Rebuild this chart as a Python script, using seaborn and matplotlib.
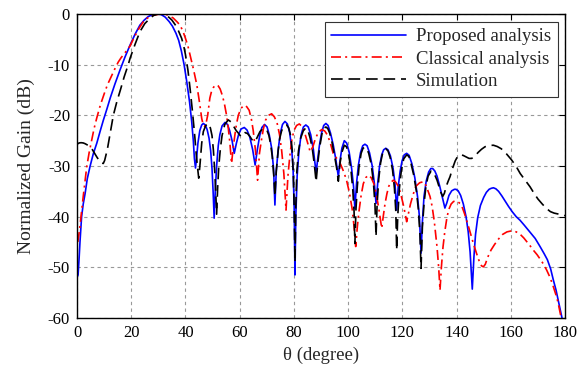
import numpy as np
import pandas as pd
import matplotlib
matplotlib.use("Agg")
import matplotlib.pyplot as plt
import seaborn as sns

# ---- data ----
prop_theta = [0, 0.4, 0.8, 1.1, 1.7, 2.3, 3.0, 3.8, 4.8, 6, 7.3, 8.5, 9.7, 11, 12.3, 14, 15.9, 17.7, 19.6,
              21.4, 23.2, 24.8, 26.3, 28, 29.5, 31, 32.5, 34, 35.2, 36.5, 37.5, 38.5, 39.5, 40.5, 41.5,
              42.3, 42.9, 43.3, 43.7, 44.1, 44.6, 45.3, 46, 46.6, 47.3, 48, 48.7, 49.3, 49.8, 50.2, 50.6,
              51, 51.5, 52.1, 52.7, 53.5, 54.6, 55.5, 56.3, 57.2, 58, 58.8, 59.6, 60.5, 61.7, 62.7, 63.7,
              64.8, 65.7, 66.6, 67.4, 68.2, 69.2, 70.1, 70.9, 71.8, 72.5, 73, 73.5, 74.2, 75, 75.8, 76.7,
              77.6, 78.4, 79.1, 79.7, 80.1, 80.4, 80.7, 81.2, 81.8, 82.6, 83.5, 84.4, 85.3, 86.2, 87.2,
              87.8, 88.2, 88.7, 89.4, 90.2, 91, 91.8, 92.6, 93.5, 94.5, 95.5, 96.4, 97, 97.7, 98.6, 99.5,
              100.4, 101.3, 102, 102.5, 103.1, 103.8, 104.6, 105.4, 106.2, 107, 107.9, 108.9, 109.7,
              110.3, 110.9, 111.6, 112.4, 113.1, 113.9, 114.7, 115.6, 116.6, 117.3, 117.9, 118.5, 119.2,
              119.9, 120.7, 121.6, 122.5, 123.5, 124.6, 125.6, 126.3, 126.9, 127.4, 128, 128.8, 129.7,
              130.5, 131.2, 132, 132.8, 133.8, 134.8, 135.7, 136.4, 137.2, 138.2, 139.2, 139.8, 140.6,
              141.5, 142.5, 143.5, 144.3, 145, 145.8, 146.4, 147, 147.8, 148.8, 150, 151, 152, 152.8,
              153.6, 154.5, 155.5, 156.7, 158, 159.2, 160.5, 162, 163.4, 165, 167, 169, 170.8, 172.3,
              173.5, 174.7, 175.7, 176.7, 177.5, 178.3, 178.8, 179.3]
prop_gain = [-52, -51.5, -48, -45, -40, -37.5, -35.4, -32.5, -30.1, -27.6, -25.5, -23.2, -21, -18.8,
             -16.5, -13.8, -11, -8.5, -6.1, -4, -2.2, -1.2, -0.5, -0.1, 0, -0.1, -0.6, -1.5, -2.4, -3.8,
             -5.2, -7.3, -10, -13.4, -17.3, -21.2, -25, -28.5, -30.4, -28.5, -25.5, -23, -21.9, -21.6,
             -21.9, -22.8, -24.5, -27, -30.5, -35, -40.3, -35, -30, -26, -23.8, -22.1, -21.4, -21.8, -23,
             -25, -27.5, -25.5, -23.8, -22.7, -22.4, -22.9, -24.2, -26.8, -29.8, -26.5, -24, -22.4,
             -21.8, -22.3, -23.8, -26.5, -30.5, -37.7, -31, -26.8, -23.5, -21.8, -21.2, -21.7, -23.3,
             -26, -30.5, -38, -51.5, -40, -32, -27.5, -24, -22.3, -21.9, -22.3, -23.8, -26.8, -29.5,
             -31.4, -29, -26, -23.5, -22, -21.6, -22, -23.5, -25.8, -28.8, -32.1, -29, -26.5, -25,
             -25.5, -27.3, -30.5, -34, -38.4, -33.5, -29.8, -27.3, -26, -25.7, -26, -27.4, -30, -33.5,
             -37.4, -33.5, -30, -27.8, -26.8, -26.5, -26.8, -28, -30.5, -33.5, -38.7, -34, -31, -29,
             -27.8, -27.5, -27.9, -29.5, -32.3, -36, -40, -47.2, -41, -36, -33, -31.2, -30.5, -30.5,
             -31, -32, -34, -36.3, -38.3, -37.3, -35.8, -34.9, -34.6, -34.6, -34.9, -35.8, -37.5, -40,
             -43, -47, -54.3, -48, -43.5, -40.2, -37.8, -36.2, -35.2, -34.6, -34.4, -34.3, -34.5, -35,
             -35.9, -37, -38, -39, -40, -40.7, -41.7, -43, -44.3, -45.9, -47.3, -48.5, -50.3, -52.5,
             -54.5, -56.5, -58.5, -59.7, -61]

class_theta = [0.3, 0.7, 1.1, 1.7, 2.3, 3, 3.6, 4.5, 5.4, 6.3, 7.3, 8.6, 10, 11.2, 12.5, 13.8, 15.2,
               16.3, 17.5, 18.6, 19.6, 21, 22.7, 24.5, 26, 28, 30, 31.8, 33.5, 35.5, 37, 38, 39, 40,
               40.9, 41.7, 43, 44.2, 45.2, 46, 46.6, 47.2, 47.7, 48.2, 49, 49.6, 50.2, 50.8, 51.5, 52.1,
               52.8, 53.5, 54.3, 55.1, 55.8, 56.4, 57, 57.6, 58.2, 58.8, 59.5, 60.5, 61.7, 62.6, 63.5,
               64.3, 65, 65.8, 66.6, 67.3, 68, 68.7, 69.5, 70.6, 71.8, 72.8, 73.8, 74.7, 75.5, 76.3,
               77.1, 77.8, 78.5, 79.2, 80, 81, 82, 83, 84, 85, 86, 87, 88, 89.1, 90.3, 91.4, 92.5, 93.5,
               94.5, 95.8, 96.7, 97.5, 98.5, 99.5, 100.5, 101.5, 102.2, 102.8, 103.4, 104, 104.8, 105.6,
               106.5, 107.5, 108.5, 109.5, 110.4, 111.2, 111.8, 112.4, 113, 113.6, 114.3, 115, 115.8,
               116.7, 117.6, 118.5, 119.4, 120.3, 121, 121.6, 122.3, 123, 124, 125, 126.4, 127.8, 128.7,
               129.5, 130.2, 131, 131.8, 132.8, 133.4, 133.9, 134.4, 135, 135.7, 136.5, 137.2, 138,
               138.9, 139.8, 140.6, 141.5, 142.2, 143, 144.6, 146.2, 147.4, 148.5, 149.2, 149.9, 150.6,
               151.5, 152.7, 154, 155.5, 157, 158.6, 160.3, 162, 163.5, 164.8, 166, 167.2, 168.3, 169.7,
               171, 172.1, 173.2, 174.4, 175.5, 176.3, 177, 177.6, 178.2, 178.8, 179.2]
class_gain = [-45, -43.5, -41.8, -38.8, -36, -32.9, -30.1, -27.3, -24.9, -22.6, -20.5, -18, -15.8, -14,
              -12.5, -11, -9.5, -8.6, -7.8, -7, -6.3, -4.7, -3, -1.5, -0.8, -0.3, -0.05, 0, -0.2, -0.8,
              -1.6, -2.2, -3.3, -4.8, -6.3, -8.1, -11, -14, -17.5, -20.6, -22, -22.2, -21.3, -20, -16.6,
              -15.3, -14.6, -14.15, -14, -14.2, -14.8, -15.9, -17.5, -19.8, -22.5, -25.5, -29.5, -26.5,
              -24, -21.8, -20, -18.6, -18, -18.3, -19, -20.7, -23, -26.8, -32.8, -27.5, -25, -22.8, -21,
              -20, -19.7, -20.3, -21.5, -23.8, -27, -31.5, -38.7, -32, -28, -25, -23, -22, -21.7, -22.2,
              -23.5, -25.3, -27.2, -26.2, -24.5, -23.3, -22.8, -23.1, -24, -25.6, -27.5, -28.5, -29, -30,
              -31.3, -33, -35.3, -38.5, -42, -45.9, -42, -39, -35.8, -33.5, -32.3, -31.8, -32.3, -33.5,
              -35.6, -38, -40.2, -42.3, -39.8, -37.5, -35.5, -34, -33.2, -32.8, -33.2, -34, -35.5, -37.5,
              -39.3, -41, -39.3, -37.5, -35.6, -34, -33.3, -33.1, -33.8, -35, -36, -38, -41, -46, -50,
              -54.5, -50, -46, -42.8, -40, -38.5, -37.5, -37, -36.9, -37.1, -37.5, -38.3, -39.5, -42.3,
              -45.3, -47.3, -49, -49.7, -49.9, -49.4, -48, -46.6, -45.5, -44.4, -43.5, -43, -42.8, -43,
              -43.5, -44.2, -45, -45.8, -46.6, -47.5, -48.5, -49.4, -50.5, -51.9, -53.5, -54.8, -56,
              -57.4, -59, -60.5, -61.5]

sim_theta = [0, 0.8, 1.5, 2.3, 3, 4, 4.8, 5.7, 6.5, 7.4, 8.3, 9, 9.7, 10.2, 10.7, 11.2, 11.6, 12.5, 13.4,
             14.7, 16, 17.4, 18.9, 19.6, 21.4, 23.2, 25, 26.9, 28.2, 29.5, 31.2, 33, 34, 35, 36.2, 37.4,
             38.6, 39.4, 40, 40.9, 41.7, 42.6, 43.5, 44, 44.4, 44.9, 45.4, 46, 46.6, 47.5, 48.4, 49.2,
             49.8, 50.3, 50.8, 51.2, 51.5, 51.9, 52.3, 52.9, 53.5, 54.5, 55.8, 56.8, 57.8, 58.7, 59.5,
             60.5, 61.2, 62, 62.9, 63.8, 64.8, 65.7, 66.6, 67.5, 68.4, 69.3, 70.1, 70.8, 71.5, 72, 72.6,
             73, 73.5, 74.2, 74.8, 75.5, 76.4, 77.3, 78.1, 78.8, 79.4, 79.8, 80.1, 80.4, 80.7, 81.1,
             81.7, 82.5, 83.5, 84.4, 85.2, 86, 86.8, 87.5, 88.2, 88.8, 89.5, 90.5, 91.2, 91.8, 92.5,
             93.2, 94.1, 95, 95.8, 96.4, 97, 97.7, 98.6, 99.4, 100.2, 101, 101.7, 102.2, 102.5, 102.9,
             103.4, 104, 104.8, 105.5, 106.2, 106.9, 107.6, 108.5, 109.3, 109.9, 110.3, 110.7, 111.3,
             112, 112.8, 113.9, 114.7, 115.5, 116.4, 117.1, 117.6, 117.9, 118.3, 118.9, 119.6, 120.5,
             121.6, 122.4, 123.2, 124.2, 125.2, 125.9, 126.5, 126.9, 127.4, 128, 128.7, 129.5, 130.6,
             131.3, 132, 132.8, 133.5, 134.2, 134.9, 135.5, 136.2, 136.9, 137.6, 138.5, 139.5, 140.4,
             141.3, 142.4, 143.5, 144.6, 145.6, 146.8, 148, 149.2, 150.5, 152, 153.6, 155, 156.5,
             158.4, 160.3, 162, 163.5, 165.3, 167.1, 168.6, 170, 171.6, 173.2, 174.6, 176, 177.7,
             179.4, 180]
sim_gain = [-25.7, -25.45, -25.4, -25.45, -25.6, -25.9, -26.2, -26.8, -27.5, -28.3, -29, -29.4, -29.5,
            -28.9, -27.8, -26.7, -25.5, -22.7, -20, -17.3, -15, -12.4, -10, -8.7, -6, -3.5, -1.9, -0.85,
            -0.3, -0.05, 0, -0.3, -0.7, -1.2, -2.1, -3.3, -4.8, -6.4, -8, -11, -14.7, -19.3, -24.5,
            -27.8, -30, -32.4, -29.5, -25.5, -23.2, -22, -21.6, -22.5, -24, -26.8, -31, -35.5, -39.5,
            -34, -30, -26.5, -24, -21.8, -20.9, -21.3, -22.2, -23, -23.5, -24.2, -23.7, -23.4, -23.6,
            -24.2, -25, -25.2, -24.2, -23.2, -22.7, -22.6, -23, -24, -26, -28, -32, -36, -31, -27,
            -24.5, -23, -22.2, -21.9, -22.5, -24, -27, -32, -38, -49, -38, -31, -27, -24.5, -23, -22.5,
            -23, -24.5, -26.6, -29.5, -33.1, -29.5, -26.3, -23.2, -22.5, -22.3, -22.6, -23.5, -25.4,
            -28, -30.5, -33, -29.5, -27.3, -25.9, -26.2, -27.8, -30.5, -34.5, -39, -45.3, -38.5, -34,
            -30.3, -27.5, -26.5, -26.3, -26.6, -27.5, -29.6, -33, -37.5, -43.9, -37.5, -32.5, -29.3,
            -27.3, -26.6, -27, -28.3, -30.8, -34.5, -39, -46.6, -40, -34.5, -31, -28.6, -27.8, -28.1,
            -29.5, -31.8, -35, -38.5, -43.5, -50.2, -42, -37.5, -34, -32, -31, -31.2, -31.8, -32.8,
            -34, -35.2, -36, -35.4, -34, -33, -32.1, -30.5, -29, -28.1, -27.8, -27.9, -28.2, -28.5,
            -28.5, -28, -27.3, -26.7, -26.2, -25.95, -25.9, -26.15, -26.6, -27.6, -28.8, -30.1, -31.5,
            -32.8, -34.1, -35.4, -36.5, -37.5, -38.4, -39, -39.3, -39.5, -39.7, -39.8]

series_names = ["Proposed analysis", "Classical analysis", "Simulation"]
x_ticks = [0, 20, 40, 60, 80, 100, 120, 140, 160, 180]
y_ticks = [0, -10, -20, -30, -40, -50, -60]

df = pd.concat([
    pd.DataFrame({"theta": prop_theta, "gain": prop_gain, "series": series_names[0]}),
    pd.DataFrame({"theta": class_theta, "gain": class_gain, "series": series_names[1]}),
    pd.DataFrame({"theta": sim_theta, "gain": sim_gain, "series": series_names[2]}),
], ignore_index=True)

sns.set_theme(style="white")
plt.rcParams["font.family"] = ["Liberation Serif", "DejaVu Serif"]

fig = plt.figure(figsize=(5.81, 3.75), dpi=100)
ax = fig.add_axes([77 / 581, 1 - 318 / 375, (565 - 77) / 581, (318 - 14) / 375])

palette = {series_names[0]: "#0000ff", series_names[1]: "#ff0000", series_names[2]: "#000000"}
dashes = {series_names[0]: "", series_names[1]: (6, 2.5, 1.2, 2.5), series_names[2]: (7, 3.5)}
sns.lineplot(data=df, x="theta", y="gain", hue="series", style="series", palette=palette,
             dashes=dashes, estimator=None, sort=False, linewidth=1.2, ax=ax,
             hue_order=series_names, style_order=series_names)

ax.set_xlim(0, 180)
ax.set_ylim(-60, 0)
ax.set_xticks(x_ticks)
ax.set_yticks(y_ticks)
ax.set_xticklabels([str(t) for t in x_ticks])
ax.set_yticklabels([str(t) for t in y_ticks])
ax.tick_params(direction="in", top=True, right=True, length=4, width=0.8, labelsize=12,
               colors="black", pad=5)
ax.grid(True, linestyle=(0, (3, 3)), color="#999999", linewidth=0.8)
for s in ax.spines.values():
    s.set_color("black")
    s.set_linewidth(1.0)
ax.set_xlabel("θ (degree)", fontsize=13.5, labelpad=4)
ax.set_ylabel("Normalized Gain (dB)", fontsize=14, labelpad=9)

handles, labels = ax.get_legend_handles_labels()
leg = ax.legend(handles, labels, loc="upper right", fontsize=13.5, handlelength=4.0,
                frameon=True, fancybox=False, edgecolor="#333333", framealpha=1,
                borderaxespad=0.4, labelspacing=0.28, borderpad=0.35, handletextpad=0.5)
leg.get_frame().set_linewidth(0.8)

fig.savefig("out.png", dpi=100)
